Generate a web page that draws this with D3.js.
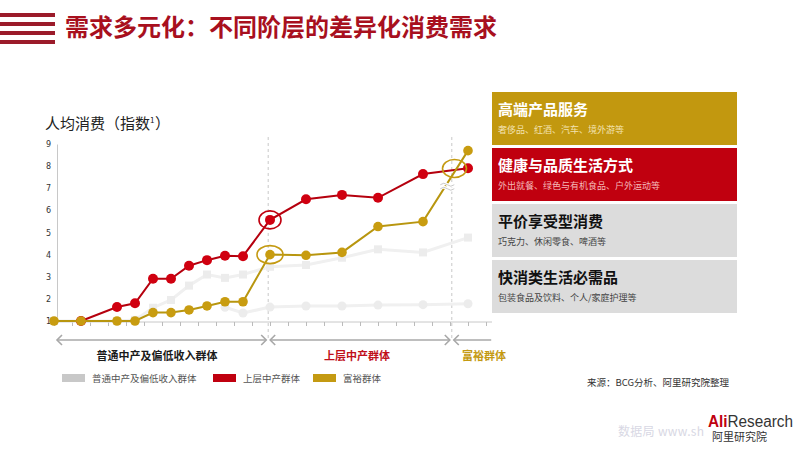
<!doctype html>
<html lang="zh">
<head>
<meta charset="utf-8"/>
<title>需求多元化</title>
<script src="https://d3js.org/d3.v7.min.js"></script>
<style>
  body { margin: 0; background: #fff; }
  svg { font-family: "Noto Sans CJK SC", "Noto Sans", sans-serif; }
</style>
</head>
<body>
<svg id="chart" width="800" height="450"></svg>
<script>
// x positions are in axis tick units
var xPos = [0, 1.5, 3.5, 4.5, 5.5, 6.5, 7.5, 8.5, 9.5, 10.5, 12, 14, 16, 18, 20.5, 23];
var gold = [1, 1, 1, 1, 1.38, 1.38, 1.5, 1.68, 1.87, 1.87, 4.0, 3.97, 4.1, 5.27, 5.49, 8.7];
var red = [null, 1, 1.63, 1.8, 2.91, 2.91, 3.5, 3.75, 3.95, 3.93, 5.57, 6.5, 6.7, 6.57, 7.64, 7.9];
var grayUpper = [1, 1, 1, 1.05, 1.6, 1.95, 2.6, 3.1, 2.95, 3.1, 3.45, 3.53, 3.86, 4.24, 4.1, 4.77];
var grayLower = [null, null, null, null, null, null, null, null, 1.62, 1.36, 1.63, 1.68, 1.68, 1.72, 1.74, 1.78];
var yTicks = [1, 2, 3, 4, 5, 6, 7, 8, 9];
var bounds = [0, 11.9, 22.1, 24.4];
var groups = ["普通中产及偏低收入群体", "上层中产群体", "富裕群体"];
var groupColors = ["#1a1a1a", "#C0101B", "#C49A12"];
var legendNames = ["普通中产及偏低收入群体", "上层中产群体", "富裕群体"];
var legendColors = ["#C8C8C8", "#C0000F", "#C49A12"];
var boxTitles = ["高端产品服务", "健康与品质生活方式", "平价享受型消费", "快消类生活必需品"];
var boxNotes = ["奢侈品、红酒、汽车、境外游等", "外出就餐、绿色与有机食品、户外运动等", "巧克力、休闲零食、啤酒等", "包装食品及饮料、个人/家庭护理等"];
var boxFills = ["#C2980F", "#C0000F", "#DCDCDC", "#DCDCDC"];
var boxTitleColors = ["#fff", "#fff", "#111", "#111"];
var boxNoteColors = ["#F2E2B0", "#F5B8B8", "#444", "#444"];

var svg = d3.select("#chart");

//Title stripes + title
svg.selectAll("rect.stripe")
  .data([0, 1, 2, 3])
  .enter()
  .append("rect")
  .attr("x", 0)
  .attr("y", function(d) { return 13 + d * 9; })
  .attr("width", 55)
  .attr("height", 4)
  .attr("fill", "#9B1B2A");

svg.append("text")
  .attr("x", 65)
  .attr("y", 36)
  .attr("font-size", 24)
  .attr("font-weight", "bold")
  .attr("fill", "#A8101E")
  .text("需求多元化：不同阶层的差异化消费需求");

//Scales
var xScale = d3.scaleLinear().domain([0, 24]).range([54, 486]);
var yScale = d3.scaleLinear().domain([1, 9]).range([321, 144]);

svg.append("text")
  .attr("x", 45)
  .attr("y", 129)
  .attr("font-size", 15)
  .attr("fill", "#222")
  .text("人均消费（指数")
  .append("tspan")
  .attr("font-size", 8)
  .attr("dy", -6)
  .text("1");
svg.append("text")
  .attr("x", 155)
  .attr("y", 129)
  .attr("font-size", 15)
  .attr("fill", "#222")
  .text("）");

//Y axis
var yAxis = d3.axisLeft(yScale).tickValues(yTicks).tickSize(0).tickPadding(6);
var gy = svg.append("g")
  .attr("transform", "translate(57,0)")
  .call(yAxis);
gy.select(".domain").attr("stroke", "#c8c8c8");
gy.selectAll("text").attr("font-size", 8).attr("fill", "#333").attr("font-family", "DejaVu Sans");

//X axis
var xAxis = d3.axisBottom(xScale).ticks(24).tickSize(4).tickFormat("");
var gx = svg.append("g")
  .attr("transform", "translate(0,322)")
  .call(xAxis);
gx.select(".domain").attr("stroke", "#c8c8c8").attr("d", "M57,0H492");
gx.selectAll("line").attr("stroke", "#bbb");

//Dashed separators
svg.selectAll("line.sep")
  .data(bounds.slice(1, 3))
  .enter()
  .append("line")
  .attr("x1", function(d) { return xScale(d); })
  .attr("x2", function(d) { return xScale(d); })
  .attr("y1", 137)
  .attr("y2", 340)
  .attr("stroke", "#c8c8c8")
  .attr("stroke-dasharray", "3,3");

function pts(vals) {
  var out = [];
  vals.forEach(function(v, i) {
    if (v !== null) out.push({x: xPos[i], y: v});
  });
  return out;
}

var line = d3.line()
  .x(function(d) { return xScale(d.x); })
  .y(function(d) { return yScale(d.y); });

//Gray series
[grayLower, grayUpper].forEach(function(series, k) {
  var data = pts(series);
  svg.append("path")
    .datum(data)
    .attr("d", line)
    .attr("fill", "none")
    .attr("stroke", "#F0F0F0")
    .attr("stroke-width", 3);
  if (k === 1) {
    svg.selectAll("rect.g" + k)
      .data(data)
      .enter()
      .append("rect")
      .attr("x", function(d) { return xScale(d.x) - 4; })
      .attr("y", function(d) { return yScale(d.y) - 4; })
      .attr("width", 8)
      .attr("height", 8)
      .attr("fill", "#ECECEC");
  } else {
    svg.selectAll("circle.g" + k)
      .data(data)
      .enter()
      .append("circle")
      .attr("cx", function(d) { return xScale(d.x); })
      .attr("cy", function(d) { return yScale(d.y); })
      .attr("r", 4.5)
      .attr("fill", "#ECECEC");
  }
});

//Red + gold series
[[red, "#B5000E", "#D00010", 5], [gold, "#B8960F", "#C89C10", 4.8]].forEach(function(s) {
  var data = pts(s[0]);
  svg.append("path")
    .datum(data)
    .attr("d", line)
    .attr("fill", "none")
    .attr("stroke", s[1])
    .attr("stroke-width", 2);
  svg.append("g").selectAll("circle")
    .data(data)
    .enter()
    .append("circle")
    .attr("cx", function(d) { return xScale(d.x); })
    .attr("cy", function(d) { return yScale(d.y); })
    .attr("r", s[3])
    .attr("fill", s[2]);
});

//Circle annotations
svg.append("ellipse")
  .attr("cx", xScale(xPos[10]))
  .attr("cy", yScale(red[10]))
  .attr("rx", 11).attr("ry", 9)
  .attr("fill", "none").attr("stroke", "#C0000F").attr("stroke-width", 1.6);
svg.append("ellipse")
  .attr("cx", xScale(xPos[10]))
  .attr("cy", yScale(gold[10]))
  .attr("rx", 13).attr("ry", 9)
  .attr("fill", "none").attr("stroke", "#C49A12").attr("stroke-width", 1.6);

var bx = xScale((xPos[14] + xPos[15]) / 2 + 0.5);
var by = yScale((gold[14] + gold[15]) / 2 + 0.8);
svg.append("ellipse")
  .attr("cx", bx).attr("cy", by)
  .attr("rx", 12).attr("ry", 9)
  .attr("fill", "none").attr("stroke", "#C49A12").attr("stroke-width", 1.6);
//break mark
var brx = xScale(xPos[14] + 1.35);
var bry = yScale(gold[14] + (gold[15] - gold[14]) * 0.52);
[0, 4].forEach(function(o) {
  svg.append("path")
    .attr("d", "M" + (brx - 7) + "," + (bry + o) + " q3.5,-3 7,0 t7,0")
    .attr("fill", "none")
    .attr("stroke", "#fff")
    .attr("stroke-width", 3);
  svg.append("path")
    .attr("d", "M" + (brx - 7) + "," + (bry + o) + " q3.5,-3 7,0 t7,0")
    .attr("fill", "none")
    .attr("stroke", "#bbb")
    .attr("stroke-width", 0.8);
});

//Group arrows
var arrowY = 340;
groups.forEach(function(g, i) {
  var x1 = xScale(bounds[i]) + (i === 0 ? 3 : 2);
  var x2 = xScale(bounds[i + 1]) - 2;
  svg.append("line")
    .attr("x1", x1).attr("x2", x2)
    .attr("y1", arrowY).attr("y2", arrowY)
    .attr("stroke", "#a8a8a8").attr("stroke-width", 1.6);
  svg.append("path")
    .attr("d", "M" + (x1 + 5) + "," + (arrowY - 5) + "L" + x1 + "," + arrowY + "L" + (x1 + 5) + "," + (arrowY + 5))
    .attr("fill", "none").attr("stroke", "#a8a8a8").attr("stroke-width", 1.6);
  if (i < 2) {
    svg.append("path")
      .attr("d", "M" + (x2 - 5) + "," + (arrowY - 5) + "L" + x2 + "," + arrowY + "L" + (x2 - 5) + "," + (arrowY + 5))
      .attr("fill", "none").attr("stroke", "#a8a8a8").attr("stroke-width", 1.6);
  }
  var cx = i === 0 ? 157 : i === 1 ? 357 : 484;
  svg.append("text")
    .attr("x", cx)
    .attr("y", 360)
    .attr("text-anchor", "middle")
    .attr("font-size", 11)
    .attr("font-weight", "bold")
    .attr("fill", groupColors[i])
    .text(g);
});

//Legend
var legendX = [62, 213, 313];
legendNames.forEach(function(n, i) {
  svg.append("rect")
    .attr("x", legendX[i]).attr("y", 374)
    .attr("width", 23).attr("height", 8)
    .attr("fill", legendColors[i]);
  svg.append("text")
    .attr("x", legendX[i] + 30)
    .attr("y", 382)
    .attr("font-size", 9.5)
    .attr("fill", "#555")
    .text(n);
});

//Right panel boxes
boxTitles.forEach(function(t, i) {
  var y0 = 92 + i * 56;
  svg.append("rect")
    .attr("x", 492).attr("y", y0)
    .attr("width", 245).attr("height", 53)
    .attr("fill", boxFills[i]);
  svg.append("text")
    .attr("x", 498).attr("y", y0 + 23)
    .attr("font-size", 15).attr("font-weight", "bold")
    .attr("fill", boxTitleColors[i])
    .text(t);
  svg.append("text")
    .attr("x", 498).attr("y", y0 + 41)
    .attr("font-size", 9)
    .attr("fill", boxNoteColors[i])
    .text(boxNotes[i]);
});

//Source
svg.append("text")
  .attr("x", 587).attr("y", 386)
  .attr("font-size", 9.5).attr("fill", "#333")
  .text("来源：BCG分析、阿里研究院整理");

//Watermark + logo
svg.append("text")
  .attr("x", 618).attr("y", 436)
  .attr("font-size", 12).attr("fill", "#D8D8E4")
  .attr("textLength", 86)
  .text("数据局 www.sh");
var logo = svg.append("text")
  .attr("x", 708).attr("y", 427)
  .attr("font-size", 16)
  .attr("textLength", 85)
  .attr("lengthAdjust", "spacingAndGlyphs")
  .attr("font-family", "Liberation Sans, Arial, sans-serif");
logo.append("tspan").attr("font-weight", "bold").attr("fill", "#C0000F").text("Ali");
logo.append("tspan").attr("fill", "#333").text("Research");
svg.append("text")
  .attr("x", 712).attr("y", 441)
  .attr("font-size", 11)
  .attr("fill", "#333")
  .text("阿里研究院");
</script>
</body>
</html>
